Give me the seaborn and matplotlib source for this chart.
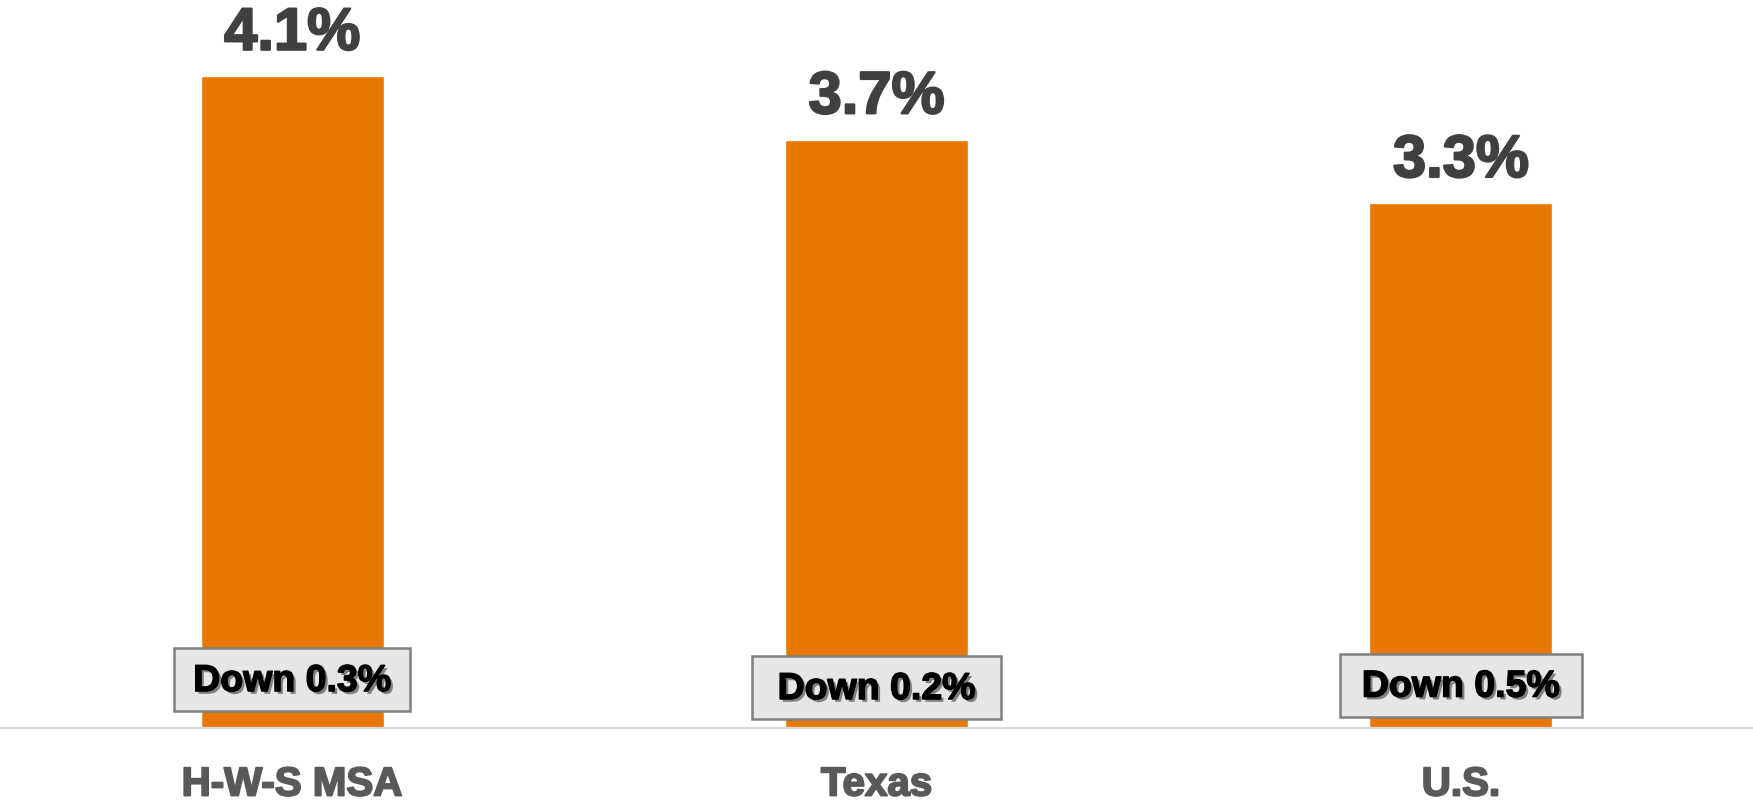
import matplotlib
matplotlib.use("Agg")
import matplotlib.pyplot as plt
import matplotlib.patheffects as pe
from matplotlib.patches import Rectangle
import seaborn as sns
import pandas as pd

# Unemployment rate by area, with change since prior period
areas = ["H-W-S MSA", "Texas", "U.S."]
rates = [4.1, 3.7, 3.3]
changes = ["Down 0.3%", "Down 0.2%", "Down 0.5%"]

df = pd.DataFrame({"area": areas, "rate": rates})

sns.set_theme(style="white")
plt.rcParams["font.family"] = ["Liberation Sans", "DejaVu Sans"]

fig = plt.figure(figsize=(17.53, 8.04), dpi=100)
ax = fig.add_axes([0.0, 0.0933, 1.0, 0.9067])

sns.barplot(data=df, x="area", y="rate", color="#E87800", width=0.313,
            saturation=1, ax=ax)

ax.set_xlim(-0.5, 2.5)
ax.set_ylim(0, 4.585)
ax.set_xlabel("")
ax.set_ylabel("")
ax.set_yticks([])

for s in ["top", "left", "right"]:
    ax.spines[s].set_visible(False)
ax.spines["bottom"].set_color("#d9d9d9")
ax.spines["bottom"].set_linewidth(1.6)

ax.tick_params(axis="x", length=0, pad=27)
for lbl in ax.get_xticklabels():
    lbl.set_fontsize(29)
    lbl.set_fontweight("bold")
    lbl.set_color("#595959")
    lbl.set_path_effects([pe.Stroke(linewidth=1.4, foreground="#595959"),
                          pe.Normal()])

# value labels above bars
for i, v in enumerate(rates):
    ax.annotate(f"{v}%", xy=(i, v), xytext=(0, 19), textcoords="offset points",
                ha="center", va="baseline", fontsize=43, fontweight="bold",
                color="#404040",
                path_effects=[pe.Stroke(linewidth=1.6, foreground="#404040"),
                              pe.Normal()])

# change boxes near the base of each bar
box_y = [0.305, 0.255, 0.27]
box_w = [0.405, 0.425, 0.415]
box_h = 0.396
for i, (txt, y, w) in enumerate(zip(changes, box_y, box_w)):
    ax.add_patch(Rectangle((i - w / 2, y - box_h / 2), w, box_h,
                           facecolor="#e6e6e6", edgecolor="#7f7f7f",
                           linewidth=1.8, zorder=4))
    ax.text(i, y - 0.01, txt, ha="center", va="center", fontsize=27,
            fontweight="bold", color="black",
            path_effects=[pe.withSimplePatchShadow(offset=(2, -2),
                                                   shadow_rgbFace="#808080",
                                                   alpha=1.0),
                          pe.Stroke(linewidth=1.0, foreground="black"),
                          pe.Normal()],
            zorder=5)

fig.savefig("out.png", dpi=100)
